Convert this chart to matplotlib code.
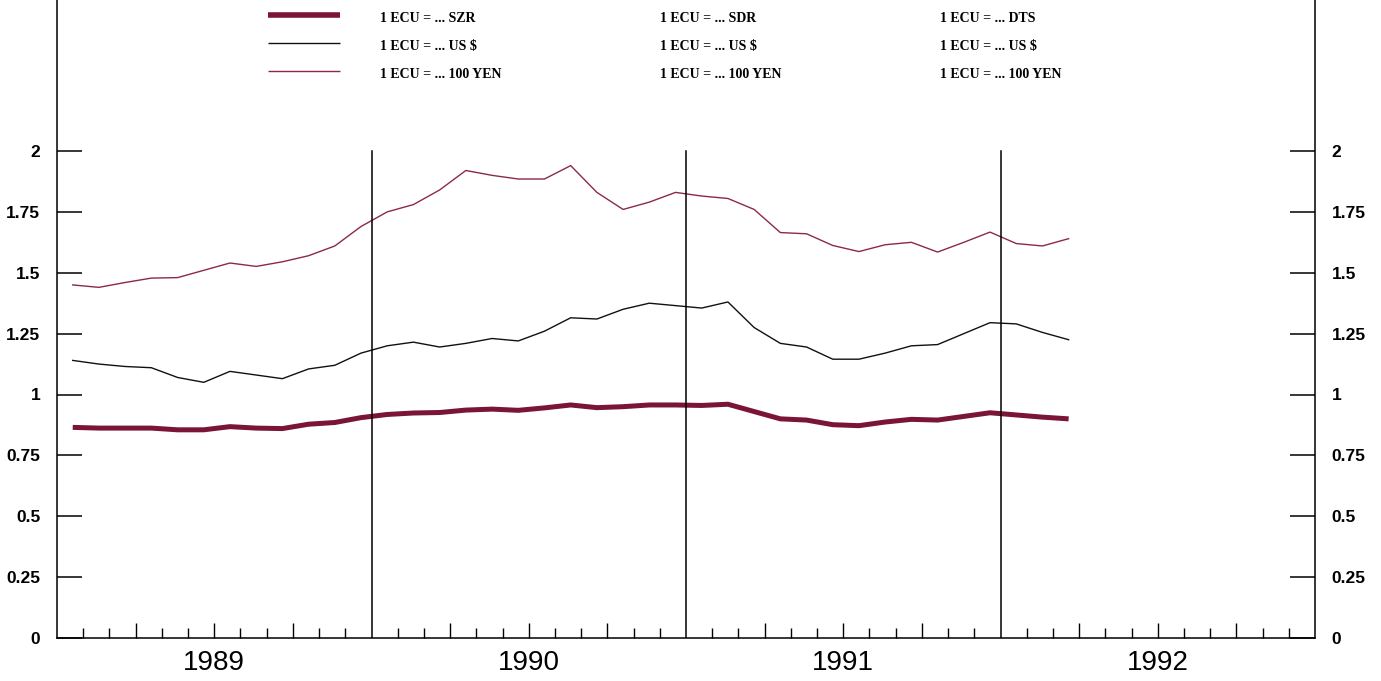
import numpy as np
import matplotlib
matplotlib.use("Agg")
import matplotlib.pyplot as plt
from matplotlib.lines import Line2D

# monthly data, Jan 1989 .. Mar 1992
szr = [0.865, 0.862, 0.862, 0.862, 0.855, 0.855, 0.868, 0.862, 0.860, 0.878, 0.885, 0.905,
       0.918, 0.924, 0.926, 0.936, 0.940, 0.935, 0.945, 0.957, 0.946, 0.950, 0.957, 0.957,
       0.955, 0.960, 0.930, 0.900, 0.895, 0.876, 0.872, 0.887, 0.898, 0.895, 0.910, 0.925,
       0.916, 0.907, 0.900]
usd = [1.140, 1.125, 1.115, 1.110, 1.070, 1.050, 1.095, 1.080, 1.065, 1.105, 1.120, 1.170,
       1.200, 1.215, 1.195, 1.210, 1.230, 1.220, 1.260, 1.315, 1.310, 1.350, 1.375, 1.365,
       1.355, 1.380, 1.275, 1.210, 1.195, 1.145, 1.145, 1.170, 1.200, 1.205, 1.250, 1.295,
       1.290, 1.255, 1.225]
yen = [1.450, 1.440, 1.460, 1.478, 1.480, 1.510, 1.540, 1.526, 1.545, 1.570, 1.610, 1.690,
       1.750, 1.780, 1.840, 1.920, 1.900, 1.885, 1.885, 1.940, 1.830, 1.760, 1.790, 1.830,
       1.815, 1.805, 1.760, 1.665, 1.660, 1.612, 1.587, 1.615, 1.625, 1.585, 1.625, 1.667,
       1.620, 1.610, 1.640]
years = ["1989", "1990", "1991", "1992"]
yticks = [0, 0.25, 0.5, 0.75, 1, 1.25, 1.5, 1.75, 2]
ylabels = ["0", "0.25", "0.5", "0.75", "1", "1.25", "1.5", "1.75", "2"]
leg_cols = [["1 ECU = ... SZR", "1 ECU = ... US $", "1 ECU = ... 100 YEN"],
            ["1 ECU = ... SDR", "1 ECU = ... US $", "1 ECU = ... 100 YEN"],
            ["1 ECU = ... DTS", "1 ECU = ... US $", "1 ECU = ... 100 YEN"]]

maroon = "#7a1535"
yen_col = "#8c2a45"
narrow = ["Liberation Sans Narrow", "DejaVu Sans Condensed", "Liberation Sans"]

W, H = 1381, 681
fig = plt.figure(figsize=(W / 100, H / 100), dpi=100)
ax = fig.add_axes([57 / W, 43 / H, (1315 - 57) / W, 638 / H])

x = np.arange(len(szr)) + 0.6
ax.plot(x, yen, color=yen_col, lw=1.0)
ax.plot(x, usd, color="#111111", lw=1.0)
ax.plot(x, szr, color=maroon, lw=3.6, solid_capstyle="butt")

for k in range(1, len(years)):
    ax.plot([12 * k, 12 * k], [0, 2], color="black", lw=1.1)

ax.set_xlim(0, 12 * len(years))
ax.set_ylim(0, 638 / 243.5)
ax.spines["top"].set_visible(False)
for s in ["left", "right", "bottom"]:
    ax.spines[s].set_linewidth(1.1)

# y ticks on both sides
ax.set_yticks(yticks)
ax.set_yticklabels(ylabels, family=narrow, fontweight="bold", fontsize=12.5)
ax.tick_params(axis="y", direction="in", length=18, width=1.1, left=True, right=True,
               labelleft=True, labelright=True, pad=12)

# month ticks
months = [m for m in range(1, 12 * len(years)) if m % 12 != 0]
major = [m for m in months if m % 3 == 0]
minor = [m for m in months if m % 3 != 0]
ax.set_xticks(major)
ax.set_xticks(minor, minor=True)
ax.set_xticklabels([])
ax.tick_params(axis="x", which="major", direction="in", length=11, width=1.0)
ax.tick_params(axis="x", which="minor", direction="in", length=7, width=1.0)

for i, yr in enumerate(years):
    ax.text(12 * i + 6, -0.05, yr, ha="center", va="top", fontsize=20,
            family=narrow, clip_on=False)

# legend block at top
styles = [(maroon, 4.0), ("#111111", 1.0), (yen_col, 1.0)]
for r, (c, lw) in enumerate(styles):
    yy = 1 - (15 + 28 * r) / H
    fig.add_artist(Line2D([268 / W, 340 / W], [yy, yy], color=c, lw=lw,
                          solid_capstyle="butt"))
for ci, col in enumerate(leg_cols):
    for r, t in enumerate(col):
        fig.text((380 + 280 * ci) / W, 1 - (19 + 27.5 * r) / H, t, ha="left",
                 va="center", fontsize=10, fontweight="bold",
                 family=["Liberation Serif", "DejaVu Serif"])

fig.savefig("out.png", dpi=100)
